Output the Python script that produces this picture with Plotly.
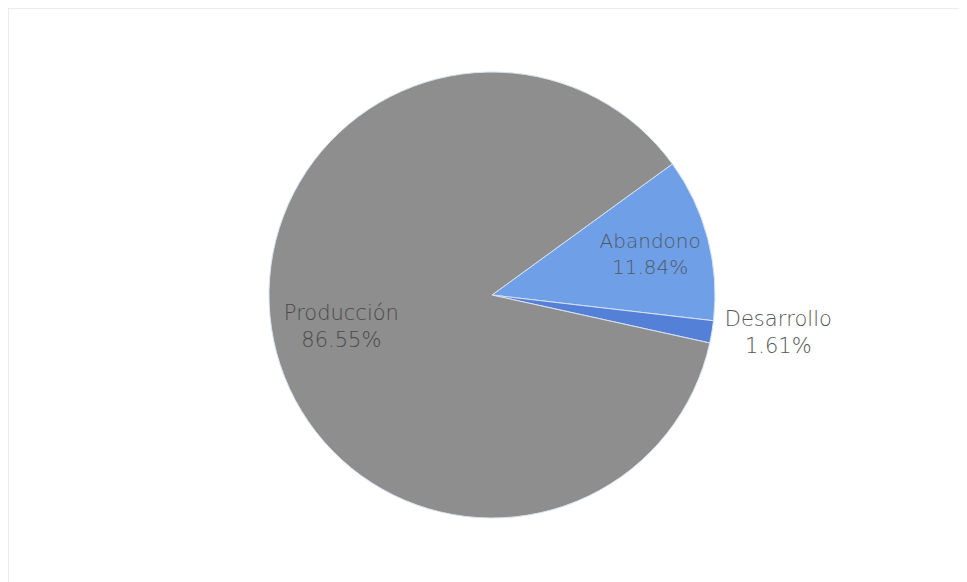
import plotly.graph_objects as go

labels = ["Abandono", "Desarrollo", "Producción"]
values = [11.84, 1.61, 86.55]
colors = ["#6f9fe7", "#5580d8", "#8e8e8e"]
text_colors = ["#4f5965", "#555555", "#4a4a4a"]

FONT = "DejaVu Sans"
domain = dict(x=[0.1, 0.901], y=[0.1237, 0.890])
label_tpl = "%{label}<br>%{percent:.2%}"

fig = go.Figure()

# main pie: colours, inside label of Abandono, outside label of the small slice
fig.add_trace(go.Pie(
    labels=labels, values=values, sort=False,
    direction="clockwise", rotation=54, automargin=False,
    marker=dict(colors=colors, line=dict(color="#d8e2f0", width=1)),
    texttemplate=[label_tpl, label_tpl, ""],
    textposition=["inside", "outside", "none"],
    insidetextorientation="horizontal",
    textfont=dict(family=FONT, size=[20, 21, 21], color=text_colors, weight=300),
    showlegend=False, hoverinfo="label+percent",
    domain=domain,
))

# transparent overlay placing the Producción label further out (ring middle)
fig.add_trace(go.Pie(
    labels=labels, values=values, sort=False,
    direction="clockwise", rotation=54, automargin=False, hole=0.38,
    marker=dict(colors=["rgba(0,0,0,0)"] * len(labels), line=dict(width=0)),
    texttemplate=["", "", label_tpl],
    textposition=["none", "none", "inside"],
    insidetextorientation="horizontal",
    textfont=dict(family=FONT, size=21, color=text_colors, weight=300),
    showlegend=False, hoverinfo="skip",
    domain=domain,
))

fig.update_layout(
    width=967, height=582, autosize=False,
    margin=dict(l=0, r=0, t=0, b=0, pad=0, autoexpand=False),
    paper_bgcolor="white", plot_bgcolor="white",
    shapes=[dict(type="rect", xref="paper", yref="paper",
                 x0=0.0, x1=1.0, y0=0.0, y1=1.0,
                 line=dict(color="#e6e6e6", width=1.5))],
)

fig.write_html("out.html")
